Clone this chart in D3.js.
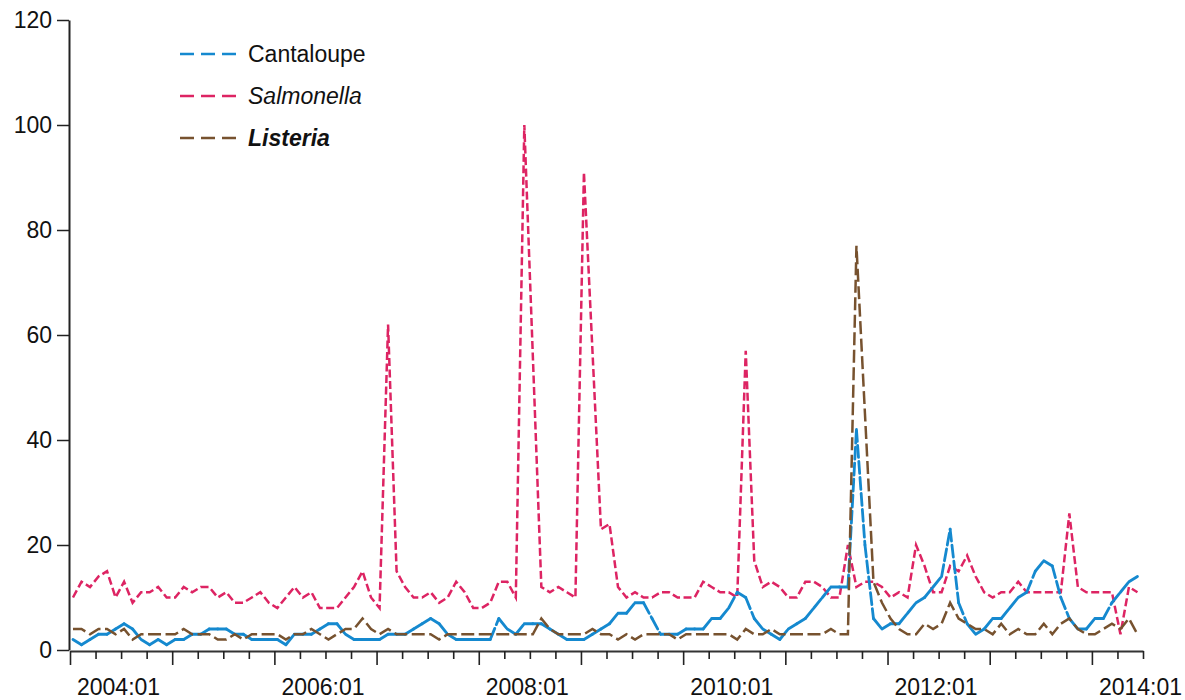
<!DOCTYPE html>
<html>
<head>
<meta charset="utf-8">
<script src="https://cdn.jsdelivr.net/npm/d3@7"></script>
<style>
  body { margin: 0; background: #fff; }
  svg { display: block; font-family: "Liberation Sans", Arial, Helvetica, sans-serif; }
</style>
</head>
<body>
<svg width="1185" height="700"></svg>
<script>
// Monthly search interest, 2004:01 .. 2014:06 (126 months)
const cantaloupe = [
  2, 1, 2, 3, 3, 4, 5, 4, 2, 1,
  2, 1, 2, 2, 3, 3, 4, 4, 4, 3,
  3, 2, 2, 2, 2, 1, 3, 3, 3, 4,
  5, 5, 3, 2, 2, 2, 2, 3, 3, 3,
  4, 5, 6, 5, 3, 2, 2, 2, 2, 2,
  6, 4, 3, 5, 5, 5, 4, 3, 2, 2,
  2, 3, 4, 5, 7, 7, 9, 9, 6, 3,
  3, 3, 4, 4, 4, 6, 6, 8, 11, 10,
  6, 4, 3, 2, 4, 5, 6, 8, 10, 12,
  12, 12, 42, 20, 6, 4, 5, 5, 7, 9,
  10, 12, 14, 23, 9, 5, 3, 4, 6, 6,
  8, 10, 11, 15, 17, 16, 10, 6, 4, 4,
  6, 6, 9, 11, 13, 14
];
const salmonella = [
  10, 13, 12, 14, 15, 10, 13, 9, 11, 11,
  12, 10, 10, 12, 11, 12, 12, 10, 11, 9,
  9, 10, 11, 9, 8, 10, 12, 10, 11, 8,
  8, 8, 10, 12, 15, 10, 8, 62, 15, 12,
  10, 10, 11, 9, 10, 13, 11, 8, 8, 9,
  13, 13, 10, 100, 56, 12, 11, 12, 11, 10,
  91, 57, 23, 24, 12, 10, 11, 10, 10, 11,
  11, 10, 10, 10, 13, 12, 11, 11, 10, 57,
  17, 12, 13, 12, 10, 10, 13, 13, 12, 10,
  10, 20, 12, 13, 13, 12, 10, 11, 10, 20,
  16, 11, 11, 16, 15, 18, 14, 11, 10, 11,
  11, 13, 11, 11, 11, 11, 11, 26, 12, 11,
  11, 11, 11, 3, 12, 11
];
const listeria = [
  4, 4, 3, 4, 4, 3, 4, 2, 3, 3,
  3, 3, 3, 4, 3, 3, 3, 2, 2, 3,
  2, 3, 3, 3, 3, 2, 3, 3, 4, 3,
  2, 3, 4, 4, 6, 4, 3, 4, 3, 3,
  3, 3, 3, 2, 3, 3, 3, 3, 3, 3,
  3, 3, 3, 3, 3, 6, 4, 3, 3, 3,
  3, 4, 3, 3, 2, 3, 2, 3, 3, 3,
  3, 2, 3, 3, 3, 3, 3, 3, 2, 4,
  3, 3, 4, 3, 3, 3, 3, 3, 3, 4,
  3, 3, 77, 45, 13, 9, 6, 4, 3, 3,
  5, 4, 5, 9, 6, 5, 4, 4, 3, 5,
  3, 4, 3, 3, 5, 3, 5, 6, 4, 3,
  3, 4, 5, 4, 6, 3
];
const yTicks = [0, 20, 40, 60, 80, 100, 120];
const xLabels = ["2004:01", "2006:01", "2008:01", "2010:01", "2012:01", "2014:01"];
const seriesNames = ["Cantaloupe", "Salmonella", "Listeria"];

const colors = { Cantaloupe: "#1589cf", Salmonella: "#dd2463", Listeria: "#77522f" };

const svg = d3.select("svg");

// month index scale (0 = 2004:01, 126 = 2014:07)
const x = d3.scaleLinear().domain([0, 126]).range([70, 1143]);
const y = d3.scaleLinear().domain([0, 120]).range([650, 20]);
const offset = 0.35; // data points sit a little after the month tick

// y axis
const yAxis = svg.append("g")
    .attr("transform", "translate(69,0)")
    .call(d3.axisLeft(y).tickValues(yTicks).tickSize(12).tickSizeOuter(0).tickPadding(5));
yAxis.select(".domain").attr("stroke", "#222").attr("stroke-width", 2);
yAxis.selectAll(".tick line").attr("stroke", "#222").attr("stroke-width", 1.5);
yAxis.selectAll(".tick text")
    .attr("font-size", 23).attr("fill", "#111").attr("font-family", "Liberation Sans, Arial, sans-serif");

// x axis: quarterly ticks, longer each January
const xAxis = svg.append("g")
    .attr("transform", "translate(0,651)")
    .call(d3.axisBottom(x).tickValues(d3.range(0, 127, 3)).tickFormat("").tickSizeOuter(0));
xAxis.select(".domain").attr("stroke", "#333").attr("stroke-width", 2);
xAxis.selectAll(".tick line")
    .attr("stroke", "#222").attr("stroke-width", 1.6)
    .attr("y2", d => d % 12 === 0 ? 14 : 8);

svg.append("g").selectAll("text")
    .data(xLabels)
    .join("text")
    .attr("x", (d, i) => x(i * 24) + 7)
    .attr("y", 695)
    .attr("font-size", 23)
    .attr("fill", "#111")
    .text(d => d);

// lines
const line = d3.line()
    .x((d, i) => x(i + offset))
    .y(d => y(d));

svg.append("path")
    .datum(salmonella)
    .attr("fill", "none")
    .attr("stroke", colors.Salmonella)
    .attr("stroke-width", 2.5)
    .attr("stroke-dasharray", "8,3.5")
    .attr("d", line);

// cantaloupe: each month-to-month segment restarts its dash pattern
const pairs = d3.range(cantaloupe.length - 1).map(i => [i, cantaloupe[i], cantaloupe[i + 1]]);
svg.append("g").selectAll("path")
    .data(pairs)
    .join("path")
    .attr("fill", "none")
    .attr("stroke", colors.Cantaloupe)
    .attr("stroke-width", 2.8)
    .attr("stroke-linecap", "round")
    .attr("stroke-dasharray", "12,4")
    .attr("d", d => `M${x(d[0] + offset)},${y(d[1])}L${x(d[0] + 1 + offset)},${y(d[2])}`);

svg.append("path")
    .datum(listeria)
    .attr("fill", "none")
    .attr("stroke", colors.Listeria)
    .attr("stroke-width", 2.5)
    .attr("stroke-dasharray", "13,4.5")
    .attr("d", line);

// legend
const legend = svg.append("g").attr("transform", "translate(180,54)");
const item = legend.selectAll("g")
    .data(seriesNames)
    .join("g")
    .attr("transform", (d, i) => `translate(0,${i * 42})`);
item.append("line")
    .attr("x1", 0).attr("x2", 57)
    .attr("stroke", d => colors[d])
    .attr("stroke-width", 2.5)
    .attr("stroke-dasharray", "14,7");
item.append("text")
    .attr("x", 68)
    .attr("dy", "0.35em")
    .attr("font-size", 23)
    .attr("fill", "#111")
    .attr("font-style", d => d === "Cantaloupe" ? "normal" : "italic")
    .attr("font-weight", d => d === "Listeria" ? "bold" : "normal")
    .text(d => d);
</script>
</body>
</html>
